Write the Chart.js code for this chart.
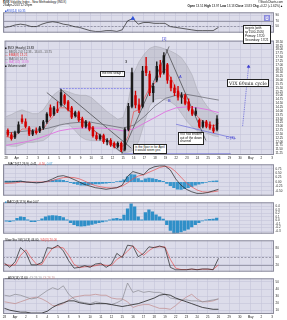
<!DOCTYPE html>
<html>
<head>
<meta charset="utf-8">
<script src="https://cdn.jsdelivr.net/npm/chart.js@4.4.1/dist/chart.umd.min.js"></script>
<style>
  body { margin: 0; width: 287px; height: 320px; overflow: hidden; position: relative; background: #fff;
         font-family: "Liberation Sans", Arial, sans-serif; }
  canvas { position: absolute; left: 0; }
  .t { position: absolute; white-space: nowrap; font-size: 3px; line-height: 3px; color: #111; }
  .box { position: absolute; white-space: nowrap; background: #fff; border: 0.5px solid #222;
         font-size: 3.2px; line-height: 3.6px; padding: 0.5px 1px; color: #111; }
  .wave { position: absolute; font-size: 4px; line-height: 4px; color: #3a3ad0; }
</style>
</head>
<body>
<script>
// 60-minute VIX, 28 Mar - 26 Apr 2013
const dayLabels = ['28', 'Apr', '2', '3', '4', '5', '8', '9', '10', '11', '12', '15', '16', '17', '18', '19',
                   '22', '23', '24', '25', '26', '29', '30', 'May', '2', '3'];

// candles, three per day
const candleOpen  = [12.75,12.45,12.30,12.60,13.50,13.30,12.90,12.50,12.70,12.70,12.90,13.30,14.20,13.80,14.10,
                     14.40,15.00,14.60,14.20,13.70,13.90,13.50,13.00,13.20,12.90,12.40,12.20,12.40,12.00,12.10,
                     11.90,11.70,11.90,11.50,12.80,14.30,15.00,14.40,14.30,16.90,16.40,15.20,16.00,17.00,16.50,
                     17.00,16.00,15.50,15.30,14.90,15.00,14.60,14.10,13.80,13.40,13.00,13.30,13.10,12.90,12.80];
const candleHigh  = [12.85,12.60,12.70,13.30,13.75,13.50,13.00,12.80,12.90,13.00,13.40,13.90,14.40,14.30,14.60,
                     15.40,15.10,14.70,14.30,14.00,14.00,13.60,13.40,13.30,13.00,12.60,12.50,12.50,12.20,12.20,
                     12.00,12.00,12.00,12.90,14.50,16.80,15.30,14.80,16.90,17.50,16.60,15.80,17.20,17.30,17.80,
                     17.10,16.20,15.70,15.60,15.20,15.10,14.80,14.30,14.20,13.50,13.40,13.40,13.30,13.10,13.70];
const candleLow   = [12.35,12.10,12.20,12.55,13.20,12.90,12.40,12.40,12.50,12.60,12.80,13.20,13.60,13.70,13.90,
                     14.30,14.40,14.00,13.50,13.60,13.30,12.90,12.90,12.70,12.30,12.10,12.10,11.90,11.80,11.70,
                     11.60,11.60,11.35,11.40,12.70,14.20,14.20,13.90,14.20,16.30,15.00,14.60,15.90,16.20,16.40,
                     15.80,15.30,15.00,14.70,14.50,14.40,14.00,13.70,13.70,12.90,12.90,12.90,12.80,12.60,12.70];
const candleClose = [12.45,12.20,12.60,13.10,13.30,13.00,12.50,12.70,12.60,12.90,13.30,13.80,13.70,14.20,14.00,
                     15.20,14.50,14.10,13.60,13.90,13.40,13.00,13.30,12.80,12.40,12.20,12.40,12.00,12.10,11.80,
                     11.70,11.90,11.45,12.80,14.30,16.50,14.40,14.10,16.60,16.50,15.20,15.60,16.90,16.40,17.60,
                     16.00,15.50,15.20,14.90,15.00,14.50,14.10,13.80,14.00,13.00,13.30,13.00,12.90,12.70,13.50];

// overlays, two per day
const bbUpper = [13.64,13.77,13.96,14.08,13.96,13.83,13.83,14.08,14.58,15.08,15.33,15.33,15.21,15.08,15.02,15.02,
                 14.89,14.58,14.27,13.96,13.71,13.46,13.58,14.71,16.46,17.21,17.71,18.08,18.21,18.14,18.02,17.89,
                 17.71,17.46,16.96,16.33,15.33,14.71,14.21,13.90,13.75];
const bbLower = [11.77,11.71,11.71,11.83,11.96,11.96,12.02,12.08,12.33,12.83,13.08,13.21,13.08,12.71,12.33,12.14,
                 12.08,12.08,12.08,11.96,11.71,11.46,11.27,11.33,11.46,12.08,13.21,14.33,14.77,14.83,14.71,14.58,
                 14.33,13.83,13.33,12.96,12.71,12.64,12.52,12.39,12.33];
const emaLine = [12.33,12.27,12.46,12.83,12.83,12.64,12.64,12.83,13.33,13.71,14.21,14.21,13.96,13.77,13.58,13.21,
                 12.96,12.58,12.33,12.08,11.89,11.77,11.71,12.39,13.96,14.08,14.83,15.52,15.83,16.46,16.71,16.14,
                 15.46,14.96,14.58,14.08,13.64,13.33,13.14,13.02,13.21];
// slower averages, one per day
const ma50Line  = [12.58,12.64,12.71,12.77,12.89,13.08,13.21,13.27,13.27,13.14,13.02,12.89,13.08,13.64,14.33,14.83,
                   15.02,15.08,14.96,14.83,14.71];
const ma100Line = [11.77,11.89,12.02,12.21,12.46,12.71,12.83,12.89,12.89,12.89,12.83,12.71,12.83,13.21,13.58,13.96,
                   14.21,14.27,14.21,14.08,13.89];

// hand-drawn lines on the price panel: [day, price] end points
const channelUpper = [[5.05, 15.46], [11.78, 11.58]];
const channelLower = [[3.83, 15.20], [10.93, 11.27]];
const riseLine     = [[10.84, 11.14], [15.33, 18.20]];
const fallLine     = [[15.05, 18.02], [18.79, 12.08]];
const baseLine     = [[15.98, 13.14], [21.59, 12.21]];
const setupLevel   = [[5.05, 15.46], [11.87, 15.46]];
const floorLevel   = [[11.03, 11.20], [21.12, 11.20]];
const cycleArrow   = [[22.24, 13.02], [22.80, 16.89]];

const rsiValues = [46.7,49.6,55.3,58.1,55.3,49.6,49.6,58.1,63.9,66.7,63.9,58.1,55.3,49.6,46.7,41.0,35.3,32.4,32.4,
                   35.3,35.3,32.4,38.1,69.6,78.1,58.1,63.9,63.9,61.0,61.0,61.0,49.6,46.7,43.9,41.0,38.1,35.3,35.3,
                   35.3,35.3,46.7];

const macdLine   = [0,0,0.02,0.05,0,-0.02,-0.05,-0.02,0.05,0.18,0.32,0.36,0.27,0.14,0,-0.14,-0.23,-0.32,-0.36,-0.41,
                    -0.36,-0.32,-0.18,0.32,0.59,0.50,0.41,0.73,0.86,0.91,0.91,0.68,0.18,-0.18,-0.41,-0.55,-0.64,
                    -0.64,-0.59,-0.50,-0.41];
const signalLine = [-0.09,-0.07,-0.05,0,0,0,0,0,0.02,0.09,0.18,0.25,0.27,0.25,0.18,0.05,-0.09,-0.20,-0.27,-0.32,
                    -0.34,-0.32,-0.23,-0.05,0.18,0.34,0.41,0.55,0.68,0.82,0.89,0.82,0.59,0.27,-0.05,-0.27,-0.45,
                    -0.55,-0.57,-0.55,-0.50];
const macdHist   = [0.05,0.05,0.05,0.06,0.05,0.03,0,-0.02,-0.03,-0.03,-0.01,0.02,0.05,0.09,0.12,0.12,0.09,0.04,
                    -0.03,-0.09,-0.14,-0.17,-0.17,-0.15,-0.13,-0.11,-0.10,-0.08,-0.06,-0.03,-0.01,0.02,0.05,0.12,
                    0.30,0.42,0.40,0.20,0.08,0.18,0.22,0.20,0.15,0.10,0.04,-0.08,-0.20,-0.32,-0.40,-0.42,-0.38,
                    -0.32,-0.26,-0.18,-0.12,-0.06,-0.02,0.02,0.05,0.07];
const fastHist   = [-0.02,-0.03,-0.01,0.06,0.10,0.09,0.02,-0.03,-0.03,0,0.05,0.10,0.13,0.14,0.13,0.12,0.08,0.02,
                    -0.06,-0.12,-0.15,-0.16,-0.15,-0.13,-0.11,-0.08,-0.06,-0.04,-0.02,0.02,0.05,0.06,0.04,0.15,
                    0.33,0.47,0.38,0.10,0.02,0.22,0.30,0.24,0.16,0.10,0.04,-0.12,-0.28,-0.36,-0.35,-0.32,-0.28,
                    -0.24,-0.18,-0.12,-0.06,-0.01,0.02,0.03,0.04,0.07];

const stochK = [26,11,32,83,65,20,20,29,83,80,92,71,35,8,11,17,11,23,26,11,23,62,47,92,89,50,62,86,83,89,83,11,
                2,2,2,5,2,5,5,2,44];
const stochD = [22,18,20,55,75,45,22,22,55,82,86,82,55,22,10,13,14,17,22,18,18,40,52,70,90,70,55,72,85,86,86,40,
                8,3,3,4,3,4,4,3,20];

const plusDI  = [31.3,30.0,32.6,31.3,28.7,26.1,27.4,32.6,37.9,41.8,39.2,44.5,32.6,26.1,22.1,20.8,19.5,22.1,20.8,
                 19.5,18.2,20.8,24.7,48.4,35.3,37.9,35.3,36.6,35.3,35.3,32.6,27.4,26.1,24.7,24.7,23.4,23.4,22.1,
                 23.4,24.7,26.1];
const minusDI = [22.1,20.8,19.5,22.1,24.7,27.4,28.7,26.1,22.1,16.8,16.8,19.5,24.7,28.7,30.0,31.3,31.3,32.6,31.3,
                 31.3,27.4,26.1,26.1,22.1,14.2,16.8,18.2,18.2,15.5,12.9,12.9,11.6,16.8,23.4,28.7,32.6,26.1,22.1,
                 22.1,23.4,26.1];
const adxLine = [12.9,10.3,8.9,7.6,7.6,6.3,6.3,6.3,8.9,14.2,18.2,20.8,23.4,23.4,20.8,19.5,18.2,19.5,19.5,19.5,
                 18.2,16.8,15.5,16.8,18.2,19.5,22.1,24.7,27.4,31.3,32.6,31.3,27.4,24.7,22.1,19.5,16.8,14.2,12.9,
                 11.6,11.6];

const rsiTicks   = [90, 70, 50];
const priceTicks = [11.25,11.5,11.75,12,12.25,12.5,12.75,13,13.25,13.5,13.75,14,14.25,14.5,14.75,15,15.25,15.5,
                    15.75,16,16.25,16.5,16.75,17,17.25,17.5,17.75,18,18.25,18.5];
const macdTicks  = [0.75, 0.5, 0.25, 0, -0.25, -0.5];
const fastTicks  = [0.4, 0.3, 0.2, 0.1, 0, -0.1, -0.2, -0.3];
const stochTicks = [80, 50, 20];
const adxTicks   = [50, 40, 30, 20, 10];

const BG = '#dcdcea', GRID = '#c4c4d8';

const hourly  = vals => vals.map((v, i) => ({ x: (i + 0.5) / 3, y: v }));
const halfDay = vals => vals.map((v, i) => ({ x: i * 0.5, y: v }));
const fullDay = vals => vals.map((v, i) => ({ x: i, y: v }));
const seg = pts => pts.map(p => ({ x: p[0], y: p[1] }));

function line(data, color, width, extra) {
  return Object.assign({ type: 'line', data, borderColor: color, borderWidth: width || 0.7,
                         pointRadius: 0, fill: false, order: 2 }, extra || {});
}
function bars(vals, color) {
  return { type: 'bar', data: hourly(vals), backgroundColor: color, barThickness: 2.6, grouped: false, order: 3 };
}

// panel background, frame and level lines
const panelPlugin = {
  id: 'panel',
  beforeDraw(c) {
    const a = c.chartArea, ctx = c.ctx;
    ctx.save(); ctx.fillStyle = BG; ctx.fillRect(a.left, a.top, a.width, a.height); ctx.restore();
  },
  beforeDatasetsDraw(c, args, opts) {
    const a = c.chartArea, ctx = c.ctx, y = c.scales.y;
    (opts.levels || []).forEach(l => {
      const py = Math.round(y.getPixelForValue(l.v)) + 0.5;
      ctx.save(); ctx.strokeStyle = '#8a8a9c'; ctx.lineWidth = 0.8; ctx.setLineDash(l.dash || []);
      ctx.beginPath(); ctx.moveTo(a.left, py); ctx.lineTo(a.right, py); ctx.stroke(); ctx.restore();
    });
  },
  afterDraw(c) {
    const a = c.chartArea, ctx = c.ctx;
    ctx.save(); ctx.strokeStyle = '#8c8c9c'; ctx.lineWidth = 1;
    ctx.strokeRect(a.left + 0.5, a.top + 0.5, a.width - 1, a.height - 1); ctx.restore();
  }
};

function panel(top, height, yMin, yMax, yTicks, fmt, datasets, opts) {
  opts = opts || {};
  const cv = document.createElement('canvas');
  cv.width = 287; cv.height = height; cv.style.top = top + 'px';
  document.body.appendChild(cv);
  return new Chart(cv, {
    type: 'bar',
    data: { datasets },
    options: {
      responsive: false, animation: false, devicePixelRatio: 1, events: [],
      layout: { padding: { left: 3, right: 0, top: 0, bottom: 0 } },
      plugins: { legend: { display: false }, tooltip: { enabled: false }, panel: { levels: opts.levels || [] } },
      scales: {
        x: {
          type: 'linear', min: -0.14, max: 25.19, offset: false,
          afterBuildTicks: s => { s.ticks = dayLabels.map((_, i) => ({ value: i })); },
          afterFit: s => { s.height = opts.dates ? 6 : 0; },
          ticks: { display: !!opts.dates, autoSkip: false, maxRotation: 0, padding: 1, color: '#222',
                   font: { size: 3, family: 'Liberation Sans' }, callback: v => dayLabels[v] },
          grid: { color: GRID, lineWidth: 0.6, drawTicks: false, offset: false },
          border: { display: false }
        },
        y: {
          position: 'right', min: yMin, max: yMax,
          afterBuildTicks: s => { s.ticks = yTicks.map(v => ({ value: v })); },
          afterFit: s => { s.width = 13; },
          ticks: { autoSkip: false, padding: 1.5, color: '#222', font: { size: 3, family: 'Liberation Sans' },
                   callback: fmt },
          grid: { color: opts.gridColor || GRID, lineWidth: 0.6, drawTicks: false },
          border: { display: false }
        }
      }
    },
    plugins: [panelPlugin]
  });
}

const candleColor = candleClose.map((c, i) => c >= candleOpen[i] ? '#1a1a1a' : '#d40000');

// RSI
panel(9, 27, 28, 100, rsiTicks, v => v.toFixed(0), [
  line(halfDay(rsiValues), '#222', 0.7, {
    pointRadius: rsiValues.map(v => v === Math.max(...rsiValues) ? 2 : 0),
    pointStyle: 'triangle', pointBackgroundColor: '#2b4fd8', pointBorderColor: '#2b4fd8'
  })
], { levels: [{ v: 70 }, { v: 50, dash: [2, 1.5] }] });

// price
panel(36, 125, 11.14, 18.58, priceTicks, v => v.toFixed(2), [
  { type: 'bar', data: hourly(candleLow).map((p, i) => ({ x: p.x, y: [candleLow[i], candleHigh[i]] })),
    backgroundColor: candleColor, barThickness: 0.7, grouped: false, order: 0 },
  { type: 'bar', data: hourly(candleOpen).map((p, i) => ({ x: p.x, y: [candleOpen[i], candleClose[i]] })),
    backgroundColor: candleColor, barThickness: 1.8, grouped: false, order: 0 },
  line(halfDay(emaLine), '#e85050', 0.7, { order: 1 }),
  line(fullDay(ma50Line), '#606068', 0.7, { order: 1 }),
  line(fullDay(ma100Line), '#e070e0', 0.9, { order: 1 }),
  line(halfDay(bbUpper), '#a4a4ae', 0.5, { order: 5 }),
  line(halfDay(bbLower), '#a4a4ae', 0.5, { order: 5, fill: '-1', backgroundColor: 'rgba(150,150,158,0.28)' }),
  line(seg(channelUpper), '#2a2a2a', 0.6, { order: 1 }),
  line(seg(channelLower), '#2a2a2a', 0.6, { order: 1 }),
  line(seg(riseLine), '#2a2a2a', 0.6, { order: 1 }),
  line(seg(fallLine), '#2a2a2a', 0.6, { order: 1 }),
  line(seg(baseLine), '#6a6ad8', 0.7, { order: 1 }),
  line(seg(setupLevel), '#7878e8', 0.8, { order: 1, borderDash: [2, 1] }),
  line(seg(floorLevel), '#3a3ad0', 0.9, { order: 1 }),
  line(seg(cycleArrow), '#3a3ad0', 0.6, { order: 1, borderDash: [1, 0.8], pointRadius: [0, 1.6],
       pointStyle: 'triangle', pointBackgroundColor: '#3a3ad0', pointBorderColor: '#3a3ad0' })
], { dates: true, gridColor: ctx => (ctx.tick && Math.abs(ctx.tick.value * 2 - Math.round(ctx.tick.value * 2)) < 1e-6) ? GRID : 'rgba(0,0,0,0)' });

// MACD
panel(161, 38, -0.77, 1.0, macdTicks, v => v.toFixed(2), [
  line(halfDay(macdLine), '#222', 0.7, { order: 1 }),
  line(halfDay(signalLine), '#e85050', 0.7, { order: 1 }),
  bars(macdHist, '#3a96cc')
]);

// fast histogram
panel(199, 38, -0.37, 0.51, fastTicks, v => v.toFixed(1), [bars(fastHist, '#2f8fc8')]);

// slow stochastic
panel(237, 38, -5, 110, stochTicks, v => v.toFixed(0), [
  line(halfDay(stochK), '#222', 0.7, { order: 1 }),
  line(halfDay(stochD), '#e85050', 0.7, { order: 2 })
], { levels: [{ v: 50, dash: [2, 1.5] }, { v: 20 }] });

// ADX
panel(275, 45, 5, 55, adxTicks, v => v.toFixed(0), [
  line(halfDay(adxLine), '#222', 0.8, { order: 1 }),
  line(halfDay(plusDI), '#8a8a90', 0.7, { order: 2 }),
  line(halfDay(minusDI), '#c08a8a', 0.7, { order: 2 })
], { dates: true });
</script>

<!-- header -->
<div class="t" style="left:3px;top:0.5px"><b>$VIX</b> Volatility Index - New Methodology (INDX)</div>
<div class="t" style="left:3px;top:4px">29-Apr-2013 12:29pm</div>
<div class="t" style="right:4px;top:0.5px">&copy;StockCharts.com</div>
<div class="t" style="right:4px;top:4.5px"><b>Open</b> 13.51 <b>High</b> 13.97 <b>Low</b> 13.13 <b>Close</b> 13.83 <b>Chg</b> +0.22 (+1.62%)&#9650;</div>
<div class="t" style="left:5px;top:10px;color:#2b4fd8">&#9632;RSI(14) 60.35</div>

<!-- price legend -->
<div class="t" style="left:5px;top:47px">&#9632; $VIX (Hourly) 13.83</div>
<div class="t" style="left:5px;top:50.5px;color:#555">&mdash; BB(20,2.0) 12.33 - 13.03 - 13.75</div>
<div class="t" style="left:5px;top:54px;color:#e04040">&mdash; EMA(8) 13.21</div>
<div class="t" style="left:5px;top:57.5px;color:#606068">&mdash; MA(50) 14.71</div>
<div class="t" style="left:5px;top:61px;color:#e070e0">&mdash; MA(100) 13.89</div>
<div class="t" style="left:5px;top:64.5px">&#9632; Volume undef</div>

<!-- notes on the price panel -->
<div class="box" style="left:100px;top:70.5px">the first setup !</div>
<div class="box" style="left:133px;top:144px">is the floor in for April<br>it would seem yes</div>
<div class="box" style="left:178px;top:131.5px">VIX has broken<br>out of the down<br>channel</div>
<div class="box" style="left:227px;top:79px;font-size:4.6px;line-height:5px;font-family:'DejaVu Serif',serif">VIX 60min cycle</div>
<div class="box" style="left:243px;top:24.5px;font-size:3px;line-height:4px">targets (with<br>sp'1500-1505)<br>Primary: 17/20<br>Secondary: 17/21</div>
<div class="wave" style="left:162px;top:36.5px">[1]</div>
<div class="wave" style="left:264px;top:15px;font-size:3.5px;border:0.4px solid #8888dd;background:#e8e8f4">[1]</div>
<div class="wave" style="left:125px;top:60px;color:#111">3</div>
<div class="wave" style="left:179px;top:75px">A</div>
<div class="wave" style="left:168px;top:99px">B</div>
<div class="wave" style="left:226px;top:136px">C (3)</div>

<!-- indicator legends -->
<div class="t" style="left:5px;top:162.5px">&mdash;MACD(12,26,9) -0.41, <span style="color:#e04040">-0.50</span>, <span style="color:#2f8fc8">0.07</span></div>
<div class="t" style="left:5px;top:200.5px;color:#2f8fc8">&#9632;<span style="color:#111">MACD(8,17,9) Hist 0.07</span></div>
<div class="t" style="left:5px;top:238.5px">Slow Sto %K(14,3) 44.00, <span style="color:#e04040">%D(3) 20.00</span></div>
<div class="t" style="left:5px;top:276.5px">&mdash;ADX(14) 11.60 <span style="color:#8a8a90">+DI 26.10</span> <span style="color:#c08a8a">-DI 26.10</span></div>
</body>
</html>
